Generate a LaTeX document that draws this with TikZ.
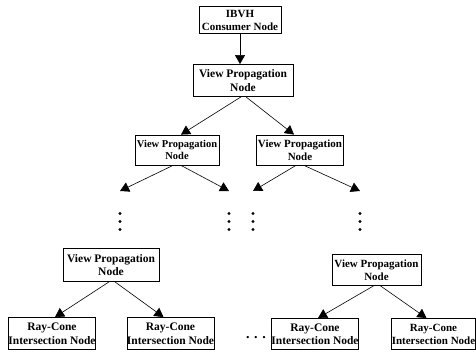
\documentclass[tikz,border=0pt]{standalone}
\usepackage{fontspec}
\setmainfont{Liberation Serif}
\usetikzlibrary{arrows.meta}
\begin{document}
\begin{tikzpicture}[x=1pt,y=-1pt,
  box/.style={draw, line width=0.8pt, inner sep=0pt, align=center,
    font=\bfseries\fontsize{11}{13}\selectfont},
  bigtext/.style={font=\bfseries\fontsize{11.5}{13.5}\selectfont},
  smalltext/.style={font=\bfseries\fontsize{10.5}{12.5}\selectfont},
  arr/.style={line width=0.6pt, -{Triangle[width=10pt,length=9pt]}},
  vdot/.style={fill=black}
]
\useasboundingbox (0,0) rectangle (476,352);

% tree of nodes
\node[box, minimum width=82, minimum height=27] (ibvh) at (240,20) {IBVH\\Consumer Node};
\node[box, bigtext, minimum width=100, minimum height=32] (vp0) at (243,80.5) {View Propagation\\Node};
\node[box, smalltext, minimum width=84, minimum height=30] (vp1) at (177,150) {View Propagation\\Node};
\node[box, minimum width=87, minimum height=30] (vp2) at (300,150) {View Propagation\\Node};
\node[box, bigtext, minimum width=96, minimum height=33] (vp3) at (111,265) {View Propagation\\Node};
\node[box, minimum width=89, minimum height=31] (vp4) at (376.5,270) {View Propagation\\Node};
\node[box, bigtext, minimum width=86, minimum height=32] (rc1) at (52,333.5) {Ray-Cone\\Intersection Node};
\node[box, bigtext, minimum width=85, minimum height=32] (rc2) at (170.5,333.5) {Ray-Cone\\Intersection Node};
\node[box, bigtext, minimum width=85, minimum height=31] (rc3) at (315,334) {Ray-Cone\\Intersection Node};
\node[box, minimum width=82, minimum height=31] (rc4) at (433.5,334) {Ray-Cone\\Intersection Node};

% open ends of the elided levels
\coordinate (t1) at (120,191);
\coordinate (t2) at (229,191);
\coordinate (t3) at (253,191);
\coordinate (t4) at (360,191);

% connectors
\draw[arr] (ibvh.south) -- (ibvh.south |- vp0.north);
\draw[arr] ([xshift=-2]vp0.south) -- ([xshift=4]vp1.north);
\draw[arr] ([xshift=3]vp0.south) -- ([xshift=-6]vp2.north);
\draw[arr] ([xshift=-4]vp1.south) -- (t1);
\draw[arr] ([xshift=4]vp1.south) -- (t2);
\draw[arr] ([xshift=-4]vp2.south) -- (t3);
\draw[arr] ([xshift=4]vp2.south) -- (t4);
\draw[arr] ([xshift=-2]vp3.south) -- ([xshift=3]rc1.north);
\draw[arr] ([xshift=4]vp3.south) -- ([xshift=-7]rc2.north);
\draw[arr] ([xshift=-3]vp4.south) -- ([xshift=3]rc3.north);
\draw[arr] ([xshift=4]vp4.south) -- ([xshift=-7]rc4.north);

% vertical ellipses below the open ends
\foreach \t in {t1,t2,t3,t4}{
  \foreach \dy in {22.5,30.5,38.5}{
    \fill[vdot] ([yshift=-\dy]\t) circle (1.6);
  }
}

% horizontal ellipsis between the leaf groups
\node[font=\bfseries\fontsize{14}{14}\selectfont, inner sep=0pt] (etc) at (256,338) {. . .};
\end{tikzpicture}
\end{document}
